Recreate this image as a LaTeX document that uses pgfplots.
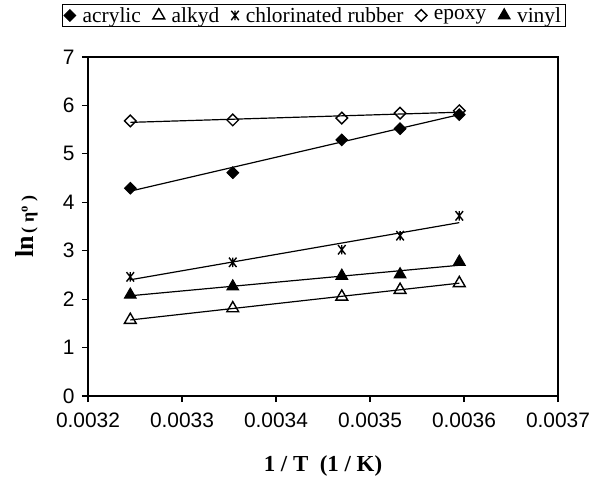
\documentclass[border=0pt]{standalone}
\usepackage{fontspec}
\setmainfont{Liberation Serif}
\newfontfamily\arial{Liberation Sans}
\usepackage{pgfplots}
\pgfplotsset{compat=1.18}

% Excel-like star: an x with a vertical bar
\pgfdeclareplotmark{xstar}{%
  \pgfpathmoveto{\pgfqpoint{-.8\pgfplotmarksize}{-\pgfplotmarksize}}%
  \pgfpathlineto{\pgfqpoint{.8\pgfplotmarksize}{\pgfplotmarksize}}%
  \pgfpathmoveto{\pgfqpoint{-.8\pgfplotmarksize}{\pgfplotmarksize}}%
  \pgfpathlineto{\pgfqpoint{.8\pgfplotmarksize}{-\pgfplotmarksize}}%
  \pgfpathmoveto{\pgfqpoint{0pt}{-\pgfplotmarksize}}%
  \pgfpathlineto{\pgfqpoint{0pt}{\pgfplotmarksize}}%
  \pgfusepathqstroke}

\pgfplotstableread{
x        acrylic alkyd chlor epoxy vinyl
0.003245 4.29    1.57  2.46  5.68  2.09
0.003354 4.61    1.81  2.76  5.70  2.26
0.003470 5.29    2.05  3.02  5.74  2.48
0.003532 5.52    2.19  3.31  5.84  2.51
0.003595 5.81    2.33  3.72  5.89  2.77
}\visc

% trend line end points
\pgfplotstableread{
x        acrylic alkyd chlor epoxy vinyl
0.003245 4.23    1.57  2.40  5.65  2.07
0.003595 5.81    2.33  3.58  5.86  2.70
}\fits

\begin{document}
\begin{tikzpicture}
\useasboundingbox (-88bp,-88bp) rectangle (507bp,396bp);
\begin{axis}[
  scale only axis, width=470bp, height=339bp,
  xmin=0.0032, xmax=0.0037, ymin=0, ymax=7,
  xtick={0.0032,0.0033,0.0034,0.0035,0.0036,0.0037},
  ytick={0,1,2,3,4,5,6,7},
  scaled x ticks=false,
  ticklabel style={font=\arial\fontsize{21}{21}\selectfont},
  xticklabel style={yshift=-7bp, /pgf/number format/.cd, fixed, precision=4, zerofill},
  yticklabel style={xshift=-4bp},
  /pgf/number format/assume math mode=true,
  tick align=outside, xtick pos=bottom, ytick pos=left,
  major tick length=6bp,
  axis line style={line width=1.2pt},
  every tick/.style={black, line width=1.2pt},
  xlabel={\bfseries 1 / T\ \ (1 / K)},
  xlabel style={font=\fontsize{23}{23}\selectfont, at={(axis description cs:0.5,-0.206)}, anchor=center},
  ylabel={{\fontsize{26}{26}\selectfont\bfseries ln} {\fontsize{18}{18}\selectfont\bfseries ( η\textsuperscript{o} )}},
  ylabel style={at={(axis description cs:-0.13,0.5)}, anchor=center},
  legend columns=-1,
  legend style={at={(axis description cs:0.48,1.157)}, anchor=north,
    draw=black, line width=1pt, font=\fontsize{21.5}{21.5}\selectfont,
    inner xsep=2bp, inner ysep=1bp,
    /tikz/every odd column/.append style={column sep=5bp},
    /tikz/every even column/.append style={column sep=10bp}},
  legend cell align=left,
]
\addplot[only marks, mark=square*, mark size=4.1bp, mark options={rotate=45, fill=black, line width=1pt}] table[x=x, y=acrylic] {\visc};
\addplot[only marks, mark=triangle, mark size=6.8bp, mark options={fill=white, line width=1.4pt}] table[x=x, y=alkyd] {\visc};
\addplot[only marks, mark=xstar, mark size=4.7bp, mark options={line width=1.4pt}] table[x=x, y=chlor] {\visc};
\addplot[only marks, mark=square, mark size=4.1bp, mark options={rotate=45, fill=white, line width=1.4pt}] table[x=x, y=epoxy] {\visc};
\addplot[only marks, mark=triangle*, mark size=6.8bp, mark options={fill=black, line width=1pt}] table[x=x, y=vinyl] {\visc};
\legend{acrylic, alkyd, chlorinated rubber, epoxy, vinyl}

\addplot[black, line width=1.2pt, forget plot] table[x=x, y=acrylic] {\fits};
\addplot[black, line width=1.2pt, forget plot] table[x=x, y=alkyd] {\fits};
\addplot[black, line width=1.2pt, forget plot] table[x=x, y=chlor] {\fits};
\addplot[black, line width=1.2pt, forget plot] table[x=x, y=epoxy] {\fits};
\addplot[black, line width=1.2pt, forget plot] table[x=x, y=vinyl] {\fits};
\end{axis}
\end{tikzpicture}
\end{document}
